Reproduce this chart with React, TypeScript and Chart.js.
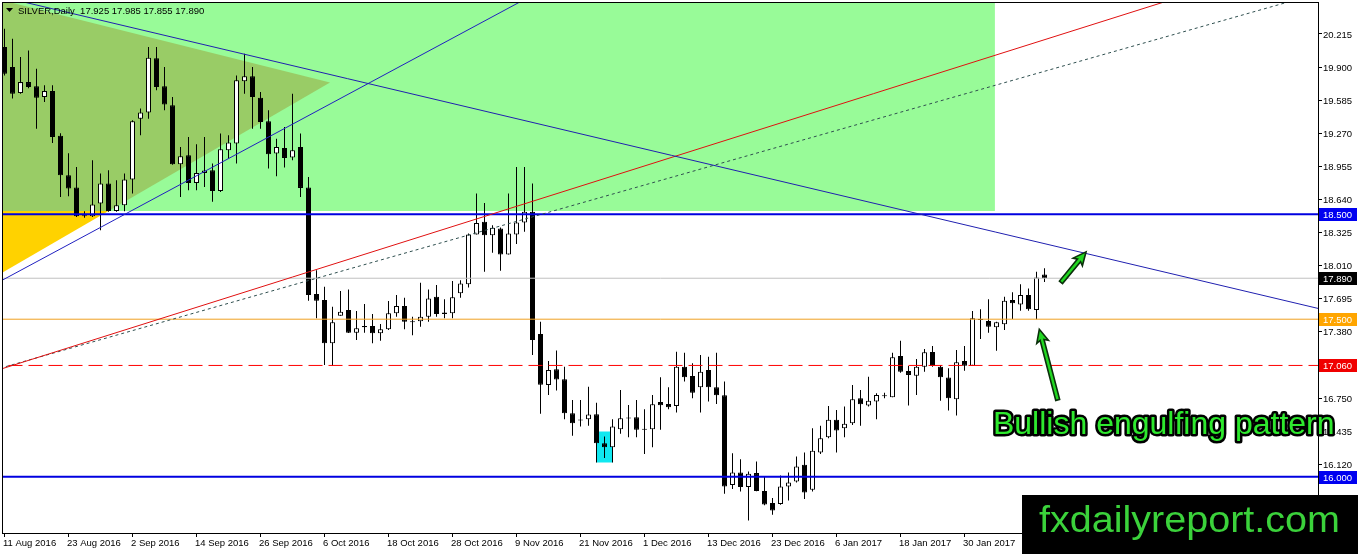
import React, { useEffect, useRef } from "react";
import { Chart, registerables } from "chart.js";

Chart.register(...registerables);

// ---------- data ----------
const tickLabels = [
  "11 Aug 2016", "23 Aug 2016", "2 Sep 2016", "14 Sep 2016", "26 Sep 2016",
  "6 Oct 2016", "18 Oct 2016", "28 Oct 2016", "9 Nov 2016", "21 Nov 2016",
  "1 Dec 2016", "13 Dec 2016", "23 Dec 2016", "6 Jan 2017", "18 Jan 2017",
  "30 Jan 2017", "9 Feb 2017",
];
const TICK_STEP = 8;

const yTickValues = [
  20.215, 19.9, 19.585, 19.27, 18.955, 18.64, 18.325, 18.01, 17.695, 17.38,
  17.065, 16.75, 16.435, 16.12, 15.805, 15.49,
];

const opens = [
  20.090, 19.900, 19.653, 19.757, 19.717, 19.615, 19.672, 19.246, 18.870, 18.754,
  18.490, 18.481, 18.602, 18.792, 18.531, 18.585, 18.830, 19.409, 19.467, 19.983,
  19.717, 19.536, 18.975, 19.061, 18.797, 18.892, 18.918, 18.721, 19.108, 19.172,
  19.764, 19.812, 19.609, 19.384, 19.077, 19.130, 19.039, 19.140, 18.754, 17.739,
  17.682, 17.271, 17.533, 17.587, 17.371, 17.435, 17.435, 17.366, 17.404, 17.556,
  17.625, 17.480, 17.480, 17.524, 17.714, 17.565, 17.556, 17.746, 17.832, 18.307,
  18.427, 18.300, 18.364, 18.117, 18.307, 18.421, 18.522, 17.359, 16.874, 17.023,
  16.929, 16.605, 16.542, 16.548, 16.596, 16.320, 16.282, 16.453, 16.558, 16.567,
  16.453, 16.453, 16.713, 16.694, 16.675, 17.048, 16.960, 16.853, 17.017, 16.853,
  16.776, 15.921, 16.041, 15.902, 16.035, 15.864, 15.750, 15.740, 15.907, 15.955,
  16.114, 15.876, 16.231, 16.377, 16.542, 16.463, 16.510, 16.748, 16.678, 16.716,
  16.767, 16.758, 17.150, 17.008, 16.963, 17.048, 17.188, 17.048, 16.944, 16.738,
  17.102, 17.058, 17.502, 17.483, 17.423, 17.451, 17.682, 17.641, 17.730, 17.587,
  17.925,
];
const highs = [
  20.265, 20.170, 19.995, 20.059, 19.885, 19.726, 19.726, 19.270, 19.080, 18.949,
  18.528, 19.013, 18.887, 18.918, 18.823, 18.887, 19.393, 19.505, 20.090, 20.090,
  19.900, 19.615, 19.140, 19.235, 19.165, 19.235, 18.982, 19.267, 19.251, 19.821,
  20.027, 19.900, 19.662, 19.488, 19.219, 19.330, 19.647, 19.267, 18.854, 17.967,
  17.809, 17.619, 17.768, 17.784, 17.578, 17.644, 17.549, 17.454, 17.673, 17.730,
  17.704, 17.524, 17.847, 17.784, 17.825, 17.689, 17.863, 17.872, 18.316, 18.697,
  18.607, 18.395, 18.373, 18.697, 18.949, 18.949, 18.792, 17.476, 17.102, 17.202,
  17.048, 16.732, 16.732, 16.858, 16.706, 16.383, 16.548, 16.827, 16.684, 16.732,
  16.643, 16.779, 16.948, 16.853, 17.191, 17.181, 17.081, 17.160, 17.143, 17.181,
  16.906, 16.225, 16.168, 16.050, 16.145, 16.003, 15.797, 16.012, 16.041, 16.193,
  16.231, 16.463, 16.485, 16.675, 16.637, 16.668, 16.874, 16.827, 16.953, 16.795,
  16.801, 17.181, 17.296, 17.055, 17.122, 17.216, 17.245, 17.064, 17.033, 17.207,
  17.245, 17.578, 17.594, 17.689, 17.476, 17.714, 17.756, 17.834, 17.793, 17.951,
  17.985,
];
const lows = [
  19.821, 19.600, 19.647, 19.698, 19.314, 19.567, 19.178, 18.664, 18.671, 18.474,
  18.467, 18.474, 18.348, 18.522, 18.522, 18.528, 18.697, 19.251, 19.409, 19.679,
  19.488, 18.970, 18.664, 18.728, 18.728, 18.759, 18.617, 18.712, 19.029, 18.982,
  19.647, 19.314, 19.314, 18.934, 18.861, 18.944, 19.013, 18.664, 17.676, 17.508,
  17.064, 17.055, 17.533, 17.369, 17.302, 17.371, 17.271, 17.295, 17.397, 17.524,
  17.404, 17.347, 17.429, 17.476, 17.524, 17.508, 17.508, 17.704, 17.803, 18.307,
  17.951, 18.132, 17.961, 18.117, 18.215, 18.332, 17.160, 16.599, 16.779, 16.822,
  16.548, 16.390, 16.478, 16.485, 16.136, 16.178, 16.136, 16.409, 16.377, 16.377,
  16.218, 16.282, 16.447, 16.643, 16.611, 16.906, 16.748, 16.611, 16.716, 16.694,
  15.838, 15.883, 15.860, 15.584, 15.862, 15.729, 15.639, 15.734, 15.775, 15.945,
  15.788, 15.860, 16.218, 16.368, 16.231, 16.377, 16.494, 16.487, 16.668, 16.548,
  16.748, 16.758, 16.991, 16.678, 16.779, 17.001, 17.048, 16.725, 16.630, 16.583,
  17.010, 17.058, 17.312, 17.372, 17.200, 17.397, 17.502, 17.581, 17.581, 17.499,
  17.855,
];
const closes = [
  19.837, 19.647, 19.757, 19.710, 19.609, 19.672, 19.235, 18.870, 18.744, 18.481,
  18.481, 18.592, 18.792, 18.531, 18.585, 18.830, 19.384, 19.467, 19.989, 19.710,
  19.543, 18.975, 19.051, 18.797, 18.892, 18.915, 18.721, 19.118, 19.181, 19.774,
  19.812, 19.615, 19.377, 19.070, 19.140, 19.035, 19.108, 18.750, 17.730, 17.676,
  17.271, 17.470, 17.571, 17.371, 17.413, 17.423, 17.366, 17.404, 17.556, 17.625,
  17.476, 17.470, 17.524, 17.698, 17.549, 17.549, 17.708, 17.841, 18.307, 18.417,
  18.300, 18.370, 18.117, 18.317, 18.421, 18.522, 17.302, 16.877, 17.017, 16.927,
  16.605, 16.510, 16.535, 16.592, 16.320, 16.282, 16.478, 16.558, 16.554, 16.447,
  16.449, 16.691, 16.682, 16.662, 17.048, 16.948, 16.801, 17.001, 16.853, 16.776,
  15.907, 16.041, 15.902, 16.028, 15.864, 15.737, 15.680, 15.907, 15.945, 16.098,
  15.851, 16.247, 16.368, 16.542, 16.440, 16.504, 16.738, 16.691, 16.725, 16.779,
  16.770, 17.138, 17.001, 16.970, 17.048, 17.185, 17.055, 16.948, 16.748, 17.090,
  17.058, 17.508, 17.492, 17.429, 17.470, 17.676, 17.651, 17.730, 17.594, 17.898,
  17.890,
];

const symbolTitle = "SILVER,Daily";
const lastQuote = [17.925, 17.985, 17.855, 17.89];

// horizontal levels
const blueLevels = [18.5, 16.0];
const orangeLevel = 17.5;
const redDashLevel = 17.06;
const bidLevel = 17.89;

// zones (bar index, price)
const greenZone = [
  { x: -2, y: 21 }, { x: 123.8, y: 21 }, { x: 123.8, y: 18.531 }, { x: -2, y: 18.531 },
];
const goldTriangle = [
  { x: -1, y: 20.549 }, { x: 40.69, y: 19.754 }, { x: -1, y: 17.912 },
];
const oliveTriangle = [
  { x: -1, y: 20.549 }, { x: 40.69, y: 19.754 }, { x: 13.01, y: 18.531 }, { x: -1, y: 18.531 },
];
const cyanBox = [
  { x: 74, y: 16.43 }, { x: 76, y: 16.43 }, { x: 76, y: 16.136 }, { x: 74, y: 16.136 },
];

// trend lines
const descTrend = [{ x: -2, y: 20.599 }, { x: 170, y: 17.498 }];
const ascTrend = [{ x: -2, y: 17.801 }, { x: 70, y: 20.748 }];
const redTrend = [{ x: -2, y: 16.988 }, { x: 170, y: 21.122 }];
const dottedTrend = [{ x: -2, y: 17.002 }, { x: 170, y: 20.726 }];

// arrows and note
const arrowFrom = [{ x: 132.06, y: 17.851 }, { x: 131.65, y: 16.732 }];
const arrowTo = [{ x: 135.19, y: 18.141 }, { x: 129.35, y: 17.404 }];
const noteText = "Bullish engulfing pattern";
const noteAnchor = { x: 123.56, y: 16.409 };
const watermarkText = "fxdailyreport.com";

const axisBadges = [
  { value: 18.5, bg: "#0000F0" },
  { value: 17.89, bg: "#000000" },
  { value: 17.5, bg: "#FFA500" },
  { value: 17.06, bg: "#F00000" },
  { value: 16.0, bg: "#0000F0" },
];

const FONT = '"Liberation Sans", Arial, sans-serif';

// ---------- helpers ----------
const polygon = (pts: any[], color: string, order: number) => ({
  type: "line",
  data: pts,
  backgroundColor: color,
  borderColor: "rgba(0,0,0,0)",
  borderWidth: 0,
  pointRadius: 0,
  fill: "shape",
  tension: 0,
  order,
});

const hline = (v: number, color: string, width: number, dash: number[], order: number) => ({
  type: "line",
  data: [{ x: -2, y: v }, { x: 170, y: v }],
  borderColor: color,
  borderWidth: width,
  borderDash: dash,
  pointRadius: 0,
  fill: false,
  order,
});

const trend = (pts: any[], color: string, width: number, dash: number[], order: number) => ({
  type: "line",
  data: pts,
  borderColor: color,
  borderWidth: width,
  borderDash: dash,
  pointRadius: 0,
  fill: false,
  order,
});

function drawArrow(ctx: CanvasRenderingContext2D, x1: number, y1: number, x2: number, y2: number) {
  const ang = Math.atan2(y2 - y1, x2 - x1);
  const L = Math.hypot(x2 - x1, y2 - y1);
  const headLen = 13;
  const headW = 6;
  const shaftW = 2;
  ctx.save();
  ctx.translate(x2, y2);
  ctx.rotate(ang);
  ctx.beginPath();
  ctx.moveTo(0, 0);
  ctx.lineTo(-headLen, -headW);
  ctx.lineTo(-headLen + 2, -shaftW);
  ctx.lineTo(-L, -shaftW);
  ctx.lineTo(-L, shaftW);
  ctx.lineTo(-headLen + 2, shaftW);
  ctx.lineTo(-headLen, headW);
  ctx.closePath();
  ctx.fillStyle = "#22D822";
  ctx.fill();
  ctx.lineWidth = 1.6;
  ctx.strokeStyle = "#0B300B";
  ctx.lineJoin = "miter";
  ctx.stroke();
  ctx.restore();
}

const decorPlugin = {
  id: "mt4Decor",
  afterDraw(chart: any) {
    const { ctx, scales } = chart;
    const xs = scales.x;
    const ys = scales.y;
    const area = chart.chartArea;
    ctx.save();

    // frame
    ctx.strokeStyle = "#000";
    ctx.lineWidth = 1;
    ctx.strokeRect(Math.round(area.left) - 0.5, Math.round(area.top) - 0.5,
      Math.round(area.right - area.left) + 1, Math.round(area.bottom - area.top) + 1);

    // arrows
    for (let i = 0; i < arrowFrom.length; i++) {
      drawArrow(
        ctx,
        xs.getPixelForValue(arrowFrom[i].x), ys.getPixelForValue(arrowFrom[i].y),
        xs.getPixelForValue(arrowTo[i].x), ys.getPixelForValue(arrowTo[i].y)
      );
    }

    // note text
    ctx.font = `32px ${FONT}`;
    ctx.textAlign = "left";
    ctx.textBaseline = "alphabetic";
    ctx.lineJoin = "round";
    ctx.lineWidth = 5;
    ctx.strokeStyle = "#000";
    const nx = xs.getPixelForValue(noteAnchor.x);
    const ny = ys.getPixelForValue(noteAnchor.y);
    ctx.strokeText(noteText, nx, ny);
    ctx.fillStyle = "#2EE82E";
    ctx.fillText(noteText, nx, ny);

    // axis badges
    ctx.font = `9.5px ${FONT}`;
    ctx.textBaseline = "middle";
    for (const b of axisBadges) {
      const py = ys.getPixelForValue(b.value);
      ctx.fillStyle = b.bg;
      ctx.fillRect(area.right + 1, Math.round(py) - 6, 38, 13);
      ctx.fillStyle = "#fff";
      ctx.fillText(b.value.toFixed(3), area.right + 5, Math.round(py) + 1);
    }

    // title
    ctx.fillStyle = "#000";
    ctx.beginPath();
    ctx.moveTo(6, 8);
    ctx.lineTo(13, 8);
    ctx.lineTo(9.5, 12);
    ctx.closePath();
    ctx.fill();
    ctx.font = `9.5px ${FONT}`;
    ctx.textBaseline = "alphabetic";
    ctx.fillText(
      symbolTitle + "  " + lastQuote.map((v) => v.toFixed(3)).join(" "),
      18, 14
    );

    // watermark
    const W = chart.width;
    const H = chart.height;
    ctx.fillStyle = "#000";
    ctx.fillRect(1022, 495, W - 1022, H - 495);
    ctx.font = `36px ${FONT}`;
    const tw = ctx.measureText(watermarkText).width;
    ctx.save();
    ctx.translate(1039, 532);
    ctx.scale(301 / tw, 1);
    ctx.fillStyle = "#3BD23B";
    ctx.fillText(watermarkText, 0, 0);
    ctx.restore();

    ctx.restore();
  },
};

export default function App() {
  const canvasRef = useRef<HTMLCanvasElement | null>(null);

  useEffect(() => {
    document.body.style.margin = "0";
    const canvas = canvasRef.current;
    if (!canvas) return;

    const wickData = highs.map((h, i) => ({ x: i, y: [lows[i], h] }));
    const bodyData = opens.map((o, i) => ({ x: i, y: [o, closes[i]] }));
    const bodyColors = opens.map((o, i) => (closes[i] >= o ? "#FFFFFF" : "#000000"));

    const chart = new Chart(canvas, {
      type: "bar",
      data: {
        datasets: [
          polygon(goldTriangle, "#FFD200", 100),
          polygon(greenZone, "#98FB98", 99),
          polygon(oliveTriangle, "#99CC66", 98),
          polygon(cyanBox, "#10E8F0", 97),
          {
            type: "bar",
            data: wickData,
            backgroundColor: "#000",
            borderWidth: 0,
            barThickness: 1,
            grouped: false,
            inflateAmount: 0,
            order: 21,
          },
          {
            type: "bar",
            data: bodyData,
            backgroundColor: bodyColors,
            borderColor: "#000",
            borderWidth: 1,
            borderSkipped: false,
            barThickness: 5,
            minBarLength: 1,
            grouped: false,
            inflateAmount: 0,
            order: 20,
          },
          hline(bidLevel, "#C0C0C0", 1, [], 12),
          hline(orangeLevel, "#F0A020", 1, [], 11),
          hline(redDashLevel, "#FF0000", 1, [14, 6], 10),
          hline(blueLevels[0], "#0000E0", 2, [], 9),
          hline(blueLevels[1], "#0000E0", 2, [], 8),
          trend(dottedTrend, "#2F4F4F", 1, [3, 3], 6),
          trend(redTrend, "#E01010", 1, [], 5),
          trend(ascTrend, "#2020C0", 1, [], 4),
          trend(descTrend, "#2020B0", 1, [], 3),
        ] as any,
      },
      options: {
        responsive: false,
        animation: false,
        events: [],
        layout: { padding: { left: 3, top: 3, right: 0, bottom: 0 } },
        plugins: {
          legend: { display: false },
          tooltip: { enabled: false },
          title: { display: false },
        },
        scales: {
          x: {
            type: "linear",
            min: -0.1875,
            max: 164.1875,
            offset: false,
            bounds: "data",
            border: { display: false },
            grid: {
              drawOnChartArea: false,
              drawTicks: true,
              tickLength: 4,
              tickColor: "#000",
              color: "#000",
              offset: false,
            },
            ticks: {
              autoSkip: false,
              maxRotation: 0,
              minRotation: 0,
              align: "start",
              labelOffset: -1.5,
              padding: 1,
              color: "#000",
              font: { family: FONT, size: 9.5 },
              callback: (_v: any, i: number) => tickLabels[i] ?? "",
            },
            afterBuildTicks: (s: any) => {
              s.ticks = tickLabels.map((_, i) => ({ value: i * TICK_STEP }));
            },
            afterFit: (s: any) => {
              s.height = 21;
              s.paddingLeft = 0;
              s.paddingRight = 0;
              s.paddingTop = 0;
              s.paddingBottom = 0;
            },
          },
          y: {
            type: "linear",
            position: "right",
            min: 15.465,
            max: 20.51,
            bounds: "data",
            beginAtZero: false,
            border: { display: false },
            grid: {
              drawOnChartArea: false,
              drawTicks: true,
              tickLength: 4,
              tickColor: "#000",
              color: "#000",
            },
            ticks: {
              autoSkip: false,
              padding: 1,
              labelOffset: 1,
              color: "#000",
              font: { family: FONT, size: 9.5 },
              callback: (v: any) => Number(v).toFixed(3),
            },
            afterBuildTicks: (s: any) => {
              s.ticks = yTickValues.map((v) => ({ value: v }));
            },
            afterFit: (s: any) => {
              s.width = 40;
              s.paddingLeft = 0;
              s.paddingRight = 0;
              s.paddingTop = 0;
              s.paddingBottom = 0;
            },
          },
        },
      } as any,
      plugins: [decorPlugin],
    });

    return () => chart.destroy();
  }, []);

  return (
    <div style={{ width: 1358, height: 554, overflow: "hidden", background: "#fff" }}>
      <canvas ref={canvasRef} width={1358} height={554} style={{ display: "block" }} />
    </div>
  );
}
